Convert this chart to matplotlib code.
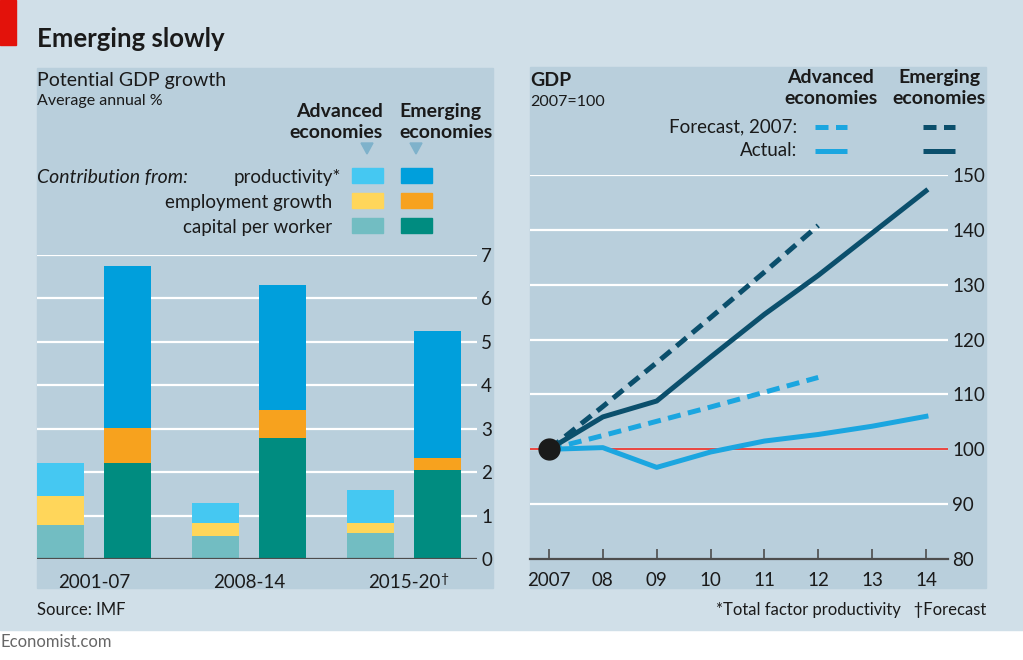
import numpy as np
import matplotlib
matplotlib.use("Agg")
import matplotlib.pyplot as plt
from matplotlib.patches import Rectangle, Polygon

plt.rcParams['font.family'] = ['Lato', 'DejaVu Sans']

# --- data: potential GDP growth, average annual % ---
periods = ["2001-07", "2008-14", "2015-20"]
adv_capital = [0.78, 0.54, 0.61]
adv_employment = [0.66, 0.30, 0.22]
adv_productivity = [0.77, 0.45, 0.75]
em_capital = [2.20, 2.78, 2.05]
em_employment = [0.82, 0.64, 0.28]
em_productivity = [3.72, 2.90, 2.93]

# --- data: GDP, 2007=100 ---
years = [2007, 2008, 2009, 2010, 2011, 2012, 2013, 2014]
adv_actual = [100, 100.3, 96.7, 99.5, 101.5, 102.7, 104.2, 106.0]
em_actual = [100, 105.9, 108.8, 116.8, 124.6, 131.7, 139.4, 147.1]
fc_years = [2007, 2008, 2009, 2010, 2011, 2012]
adv_forecast = [100, 102.5, 105.1, 107.7, 110.4, 113.1]
em_forecast = [100, 107.8, 115.8, 124.0, 132.3, 140.8]
year_labels = ["2007", "08", "09", "10", "11", "12", "13", "14"]

# colours
BG = "#d0dfe8"
PANEL = "#b9cfdc"
RED = "#e3120b"
ADV_PROD, ADV_EMP, ADV_CAP = "#45c8f2", "#ffd65a", "#72bdc2"
EM_PROD, EM_EMP, EM_CAP = "#009fdc", "#f7a21e", "#008c80"
LIGHT = "#1ba6e0"
DARK = "#0b4f6c"
AXC = "#4d4d4d"
TXT = "#1a1a1a"

W, H = 1023, 660
fig = plt.figure(figsize=(W / 100, H / 100), dpi=100)
fig.patch.set_facecolor("white")


def rect(l, t, r, b):
    return [l / W, 1 - b / H, (r - l) / W, (b - t) / H]


# overlay for background, texts and legends (pixel coordinates)
bg = fig.add_axes([0, 0, 1, 1])
bg.set_xlim(0, W)
bg.set_ylim(H, 0)
bg.axis("off")
bg.add_patch(Rectangle((0, 0), W, 630, color=BG, zorder=0))
bg.add_patch(Rectangle((37, 68), 456, 520, color=PANEL, zorder=1))
bg.add_patch(Rectangle((530, 67), 456, 521, color=PANEL, zorder=1))
bg.add_patch(Rectangle((0, 0), 16, 45, color=RED, zorder=2))

bg.text(37, 47, "Emerging slowly", fontsize=18.5, fontweight="bold", color=TXT)
bg.text(37, 86, "Potential GDP growth", fontsize=14, color=TXT)
bg.text(37, 105, "Average annual %", fontsize=11.5, color=TXT)
bg.text(530, 86, "GDP", fontsize=14, fontweight="bold", color=TXT)
bg.text(530, 106, "2007=100", fontsize=11.5, color=TXT)

# left legend
bg.text(383, 117, "Advanced", fontsize=14, fontweight="bold", ha="right", color=TXT)
bg.text(383, 138, "economies", fontsize=14, fontweight="bold", ha="right", color=TXT)
bg.text(399, 117, "Emerging", fontsize=14, fontweight="bold", ha="left", color=TXT)
bg.text(399, 138, "economies", fontsize=14, fontweight="bold", ha="left", color=TXT)
for cx in (367, 416):
    bg.add_patch(Polygon([(cx - 6, 143), (cx + 6, 143), (cx, 154)], color="#7fb2cb", zorder=3))
bg.text(37, 183, "Contribution from:", fontsize=14, style="italic", color=TXT)
rows = [("productivity*", ADV_PROD, EM_PROD, 168, 341),
        ("employment growth", ADV_EMP, EM_EMP, 193, 332),
        ("capital per worker", ADV_CAP, EM_CAP, 218, 332)]
for lab, c1, c2, top, rx in rows:
    bg.text(rx, top + 15, lab, fontsize=13.5, ha="right", color=TXT)
    bg.add_patch(Rectangle((352, top), 31, 15, color=c1, zorder=3))
    bg.add_patch(Rectangle((401, top), 31, 15, color=c2, zorder=3))

# right legend
bg.text(831, 83, "Advanced", fontsize=14, fontweight="bold", ha="center", color=TXT)
bg.text(831, 104, "economies", fontsize=14, fontweight="bold", ha="center", color=TXT)
bg.text(939, 83, "Emerging", fontsize=14, fontweight="bold", ha="center", color=TXT)
bg.text(939, 104, "economies", fontsize=14, fontweight="bold", ha="center", color=TXT)
bg.text(797, 132, "Forecast, 2007:", fontsize=13.5, ha="right", color=TXT)
bg.text(797, 156, "Actual:", fontsize=13.5, ha="right", color=TXT)
dash = (0, (2.6, 1.5))
bg.plot([815, 847], [127, 127], color=LIGHT, lw=3.6, linestyle=dash, dash_capstyle="butt")
bg.plot([923, 955], [127, 127], color=DARK, lw=3.6, linestyle=dash, dash_capstyle="butt")
bg.plot([815, 847], [151, 151], color=LIGHT, lw=3.6, solid_capstyle="butt")
bg.plot([923, 955], [151, 151], color=DARK, lw=3.6, solid_capstyle="butt")

# footer
bg.text(37, 615, "Source: IMF", fontsize=12, color=TXT)
bg.text(986, 615, "*Total factor productivity   \u2020Forecast", fontsize=12, ha="right", color=TXT)
bg.text(0, 647, "Economist.com", fontsize=12, color="#666666")

# --- left chart: stacked bars ---
ax1 = fig.add_axes(rect(37, 255, 477, 559))
ax1.patch.set_alpha(0)
x = np.arange(len(periods))
off, bw = 0.216, 0.303
adv_b2 = np.add(adv_capital, adv_employment)
em_b2 = np.add(em_capital, em_employment)
ax1.bar(x - off, adv_capital, bw, color=ADV_CAP, zorder=3)
ax1.bar(x - off, adv_employment, bw, bottom=adv_capital, color=ADV_EMP, zorder=3)
ax1.bar(x - off, adv_productivity, bw, bottom=adv_b2, color=ADV_PROD, zorder=3)
ax1.bar(x + off, em_capital, bw, color=EM_CAP, zorder=3)
ax1.bar(x + off, em_employment, bw, bottom=em_capital, color=EM_EMP, zorder=3)
ax1.bar(x + off, em_productivity, bw, bottom=em_b2, color=EM_PROD, zorder=3)
ax1.set_xlim(-0.368, 2.471)
ax1.set_ylim(0, 7)
for v in range(1, 8):
    ax1.axhline(v, color="white", lw=1.6, zorder=1)
ax1.axhline(0, color=AXC, lw=1.6, zorder=4)
for s in ax1.spines.values():
    s.set_visible(False)
ax1.yaxis.tick_right()
ax1.set_yticks(range(8))
ax1.tick_params(axis="y", length=0, pad=3, labelsize=13.5, labelcolor=TXT)
ax1.set_xticks(x)
ax1.set_xticklabels(periods)
ax1.tick_params(axis="x", length=0, pad=11, labelsize=13.5, labelcolor=TXT)
ax1.text(2.235, -0.33, "\u2020", fontsize=10, color=TXT, ha="left", va="top",
         transform=ax1.transData, clip_on=False)

# --- right chart: GDP lines ---
ax2 = fig.add_axes(rect(530, 175, 948, 559))
ax2.patch.set_alpha(0)
ax2.set_xlim(2006.647, 2014.41)
ax2.set_ylim(80, 150)
for v in range(90, 151, 10):
    ax2.axhline(v, color="white", lw=1.6, zorder=1)
ax2.axhline(100, color=RED, lw=1.1, zorder=2)
for s in ax2.spines.values():
    s.set_visible(False)
ax2.axhline(80, color=AXC, lw=1.6, zorder=4, clip_on=False)
ax2.plot(fc_years, adv_forecast, color=LIGHT, lw=3.6, linestyle=dash, dash_capstyle="butt", zorder=3)
ax2.plot(fc_years, em_forecast, color=DARK, lw=3.6, linestyle=dash, dash_capstyle="butt", zorder=3)
ax2.plot(years, adv_actual, color=LIGHT, lw=3.6, zorder=3)
ax2.plot(years, em_actual, color=DARK, lw=3.6, zorder=3)
ax2.plot([years[0]], [100], "o", color="#1a1a1a", ms=15, zorder=5, clip_on=False)
ax2.yaxis.tick_right()
ax2.set_yticks(range(80, 151, 10))
ax2.tick_params(axis="y", length=0, pad=3, labelsize=13.5, labelcolor=TXT)
ax2.set_xticks(years)
ax2.set_xticklabels(year_labels)
ax2.tick_params(axis="x", direction="in", length=7, width=1.2, color=AXC, pad=9,
                labelsize=13.5, labelcolor=TXT)

fig.savefig("out.png", dpi=100, facecolor=fig.get_facecolor())
